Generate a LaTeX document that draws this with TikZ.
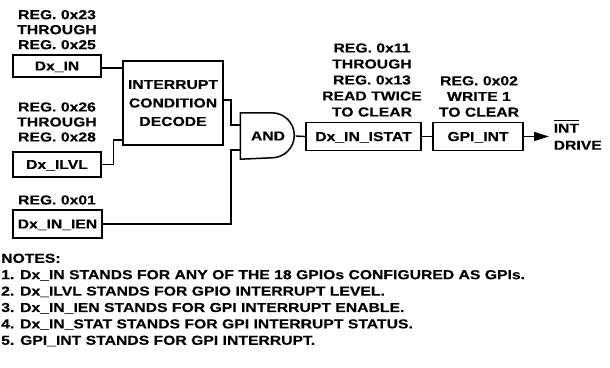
\documentclass[tikz,border=0pt]{standalone}
\usepackage{fontspec}
\setmainfont{Liberation Sans}[FakeStretch=1.21, BoldFeatures={FakeBold=0.3}]
\usetikzlibrary{arrows.meta, positioning}

\begin{document}
\begin{tikzpicture}[x=1pt, y=-1pt, line width=1.4pt,
      every node/.style={font=\bfseries\fontsize{13}{15}\selectfont},
      blk/.style={draw, line width=1.5pt, inner sep=0pt, align=center, text depth=0pt},
      lbl/.style={align=center, inner sep=0pt},
      arr/.style={-{Triangle[length=15pt, width=9pt]}}]

    \useasboundingbox (0,0) rectangle (610,367);

    % ---- Layout ----
    \def\lx{57}       % left column x
    \def\my{136.5}    % main signal row y
    \def\jx{231}      % AND input trunk x

    % ---- Register blocks ----
    \node[blk, minimum width=88pt, minimum height=22pt] (din)  at (\lx, 66)    {Dx\_IN};
    \node[blk, minimum width=88pt, minimum height=25pt] (ilvl) at (\lx, 164.5) {Dx\_ILVL};
    \node[blk, minimum width=89pt, minimum height=28pt] (ien)  at (57.5, 224)  {Dx\_IN\_IEN};
    \node[blk, minimum width=100pt, minimum height=84pt,
          font=\bfseries\fontsize{13}{18.5}\selectfont] (dec) at (173, 103)
          {INTERRUPT\\CONDITION\\DECODE};
    \node[blk, minimum width=115pt, minimum height=28pt] (istat) at (363.5, \my) {Dx\_IN\_ISTAT};
    \node[blk, minimum width=90pt, minimum height=28pt]  (gpi)   at (478, \my)   {GPI\_INT};

    % ---- AND gate ----
    \node[inner sep=0pt, minimum width=54pt, minimum height=45pt] (andg) at (268, 136) {AND};
    \draw[line width=1.5pt] (andg.north west) -- ++(31.5,0)
        arc[start angle=90, end angle=-90, radius=22.5pt] -- (andg.south west) -- cycle;

    % ---- Register labels ----
    \node[lbl] (ldin)  at (\lx, 29.7) {REG. 0x23\\THROUGH\\REG. 0x25};
    \node[lbl] (lilvl) at (\lx, 122)  {REG. 0x26\\THROUGH\\REG. 0x28};
    \node[lbl] (lien)  at (\lx, 200)  {REG. 0x01};
    \node[lbl, font=\bfseries\fontsize{13}{16}\selectfont] (listat) at (372, 80)
          {REG. 0x11\\THROUGH\\REG. 0x13\\READ TWICE\\TO CLEAR};
    \node[lbl, font=\bfseries\fontsize{13}{15.7}\selectfont] (lgpi) at (479, 96.5)
          {REG. 0x02\\WRITE 1\\TO CLEAR};

    % ---- Wires into decode and AND ----
    \draw (din.east |- 0,68) -- (dec.west |- 0,68);
    \draw (ilvl.east) -- ++(12,0) |- (dec.west |- 0,140);
    \draw (dec.east |- 0,100) -| (\jx, 125) -- (andg.west |- 0,125);
    \draw (ien.east) -| (\jx, 150) -- (andg.west |- 0,150);

    % ---- Output chain ----
    \draw (andg.east) -- (istat.west);
    \draw (istat.east) -- (gpi.west);
    \coordinate (drv) at (549, \my);
    \draw[arr] (gpi.east) -- (drv);
    \node[lbl, anchor=west, align=left, font=\bfseries\fontsize{13}{17}\selectfont] (ldrv)
          at (553, 135) {\vbox{\hrule height 1pt\kern2.5pt\hbox{INT}}\\DRIVE};

    % ---- Notes ----
    \node[lbl, anchor=north west, align=left, font=\bfseries\fontsize{13}{16.4}\selectfont] (notes)
          at (0.5, 253) {NOTES:\\
          1. Dx\_IN STANDS FOR ANY OF THE 18 GPIOs CONFIGURED AS GPIs.\\
          2. Dx\_ILVL STANDS FOR GPIO INTERRUPT LEVEL.\\
          3. Dx\_IN\_IEN STANDS FOR GPI INTERRUPT ENABLE.\\
          4. Dx\_IN\_STAT STANDS FOR GPI INTERRUPT STATUS.\\
          5. GPI\_INT STANDS FOR GPI INTERRUPT.};

\end{tikzpicture}
\end{document}
